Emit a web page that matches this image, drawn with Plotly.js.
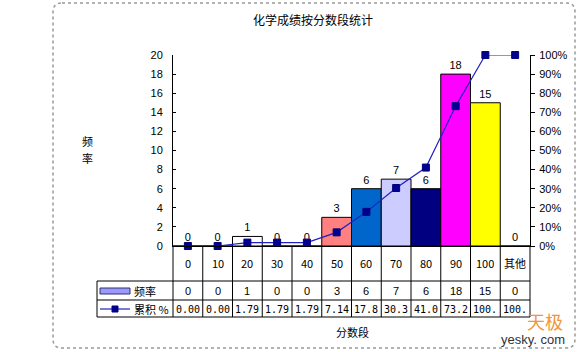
<!DOCTYPE html>
<html><head><meta charset="utf-8">
<script src="https://cdn.plot.ly/plotly-3.0.1.min.js"></script>
<style>html,body{margin:0;padding:0;background:#fff}#chart{width:579px;height:352px}</style>
</head><body><div id="chart"></div>
<script>
// ---- data ----
const categories = ['0','10','20','30','40','50','60','70','80','90','100','其他'];
const frequency = [0,0,1,0,0,3,6,7,6,18,15,0];
const cumulativePct = [0,0,1.79,1.79,1.79,7.14,17.86,30.36,41.07,73.21,100,100];
const barColors = ['#FFFFFF','#FFFFFF','#FFFFFF','#FFFFFF','#FFFFFF','#FF8080','#0066CC','#CCCCFF','#000080','#FF00FF','#FFFF00','#FFFFFF'];
const titleText = '化学成绩按分数段统计';
const yTitle = '频率';
const xTitle = '分数段';
const seriesNames = ['频率','累积 %'];

// ---- geometry helpers (pixel -> paper) ----
const W = 579, H = 352;
const M = {l:173, r:49, t:55, b:106};
const PW = W - M.l - M.r, PH = H - M.t - M.b;
const px = x => (x - M.l) / PW;
const py = y => (H - M.b - y) / PH;

const FONT = '"Noto Sans CJK SC", "Liberation Sans", sans-serif';
const NUMFONT = '"Liberation Sans", Arial, sans-serif';

const traces = [
  {
    type:'bar', x:categories, y:frequency, name:seriesNames[0],
    marker:{color:barColors, line:{color:'#000', width:1}},
    text:frequency.map(String), textposition:'outside', cliponaxis:false,
    textfont:{family:NUMFONT, size:11, color:'#000'},
    hoverinfo:'x+y'
  },
  {
    type:'scatter', mode:'lines+markers', x:categories, y:cumulativePct, yaxis:'y2',
    name:seriesNames[1], line:{color:'#2020C0', width:1.2},
    marker:{symbol:'square', size:7, color:'#000090', line:{color:'#000080', width:1}},
    cliponaxis:false
  }
];

const shapes = [];
const annotations = [];
const L = {color:'#000', width:1};
function note(x, xref, y, text, font, extra) {
  annotations.push(Object.assign({x, xref, y, yref:'paper', text, showarrow:false,
    xanchor:'center', yanchor:'middle', font}, extra || {}));
}
// table horizontal lines
[281, 300, 317].forEach(y => shapes.push({type:'line', xref:'paper', yref:'paper',
  x0:px(97), x1:1, y0:py(y), y1:py(y), line:L}));
// table vertical lines at category boundaries
for (let i = 0; i <= categories.length; i++) {
  shapes.push({type:'line', xref:'x domain', yref:'paper',
    x0:i/categories.length, x1:i/categories.length, y0:0, y1:py(317), line:L});
}
shapes.push({type:'line', xref:'paper', yref:'paper', x0:px(97), x1:px(97), y0:py(281), y1:py(317), line:L});
// legend keys in table
shapes.push({type:'rect', xref:'paper', yref:'paper', x0:px(100), x1:px(130), y0:py(294), y1:py(288),
  fillcolor:'#9999FF', line:{color:'#333366', width:1}});
shapes.push({type:'line', xref:'paper', yref:'paper', x0:px(100), x1:px(130), y0:py(309), y1:py(309),
  line:{color:'#2020C0', width:1.2}});
shapes.push({type:'rect', xref:'paper', yref:'paper', x0:px(112), x1:px(118), y0:py(312), y1:py(306),
  fillcolor:'#000090', line:{color:'#000080', width:1}});
// outer rounded border
(function(){
  const x0=53, x1=575, y0=3, y1=348, r=9;
  const p = `M ${px(x0+r)},${py(y0)} L ${px(x1-r)},${py(y0)} Q ${px(x1)},${py(y0)} ${px(x1)},${py(y0+r)} ` +
    `L ${px(x1)},${py(y1-r)} Q ${px(x1)},${py(y1)} ${px(x1-r)},${py(y1)} ` +
    `L ${px(x0+r)},${py(y1)} Q ${px(x0)},${py(y1)} ${px(x0)},${py(y1-r)} ` +
    `L ${px(x0)},${py(y0+r)} Q ${px(x0)},${py(y0)} ${px(x0+r)},${py(y0)} Z`;
  shapes.push({type:'path', xref:'paper', yref:'paper', path:p, line:{color:'#999', width:1.5, dash:'dot'}});
})();

// table text
categories.forEach((c, i) => {
  note(i, 'x', py(263), c, {family:FONT, size:11, color:'#000'});
  note(i, 'x', py(291), String(frequency[i]), {family:NUMFONT, size:11, color:'#000'});
  note(i, 'x', py(309), cumulativePct[i].toFixed(2).slice(0,4), {family:'"DejaVu Sans Mono", monospace', size:10, color:'#000'});
});
note(px(132), 'paper', py(291), seriesNames[0], {family:FONT, size:11, color:'#000'}, {xanchor:'left'});
note(px(132), 'paper', py(309), seriesNames[1], {family:FONT, size:11, color:'#000'}, {xanchor:'left'});
// titles
note(px(313), 'paper', py(20), titleText, {family:FONT, size:12, color:'#000'});
note(px(87), 'paper', py(141), yTitle[0], {family:FONT, size:11, color:'#000'});
note(px(87), 'paper', py(158), yTitle[1], {family:FONT, size:11, color:'#000'});
note(px(352), 'paper', py(332), xTitle, {family:FONT, size:11, color:'#000'});
// watermark
note(px(545), 'paper', py(321), '天极', {family:FONT, size:18, color:'#F08A24'}, {opacity:0.9});
note(px(533), 'paper', py(339), 'yesky. com', {family:NUMFONT, size:13, color:'#333'});

const layout = {
  width:W, height:H, margin:M, paper_bgcolor:'#fff', plot_bgcolor:'#fff',
  showlegend:false, bargap:0,
  font:{family:NUMFONT, size:11, color:'#000'},
  xaxis:{type:'category', range:[-0.5, 11.5], showline:true, linecolor:'#000', linewidth:1,
    ticks:'', showticklabels:false, showgrid:false, zeroline:false, fixedrange:true},
  yaxis:{range:[0,20], dtick:2, showline:true, linecolor:'#000', linewidth:1, ticks:'inside', ticklen:3,
    tickcolor:'#000', showgrid:false, zeroline:false, tickfont:{family:NUMFONT, size:11},
    ticklabelstandoff:7},
  yaxis2:{range:[0,100], dtick:10, ticksuffix:'%', overlaying:'y', side:'right', showline:true,
    linecolor:'#000', linewidth:1, ticks:'outside', ticklen:4, tickcolor:'#000', showgrid:false,
    zeroline:false, tickfont:{family:NUMFONT, size:11}, ticklabelstandoff:2},
  shapes, annotations
};

Plotly.newPlot('chart', traces, layout, {staticPlot:true});
</script>
</body></html>
